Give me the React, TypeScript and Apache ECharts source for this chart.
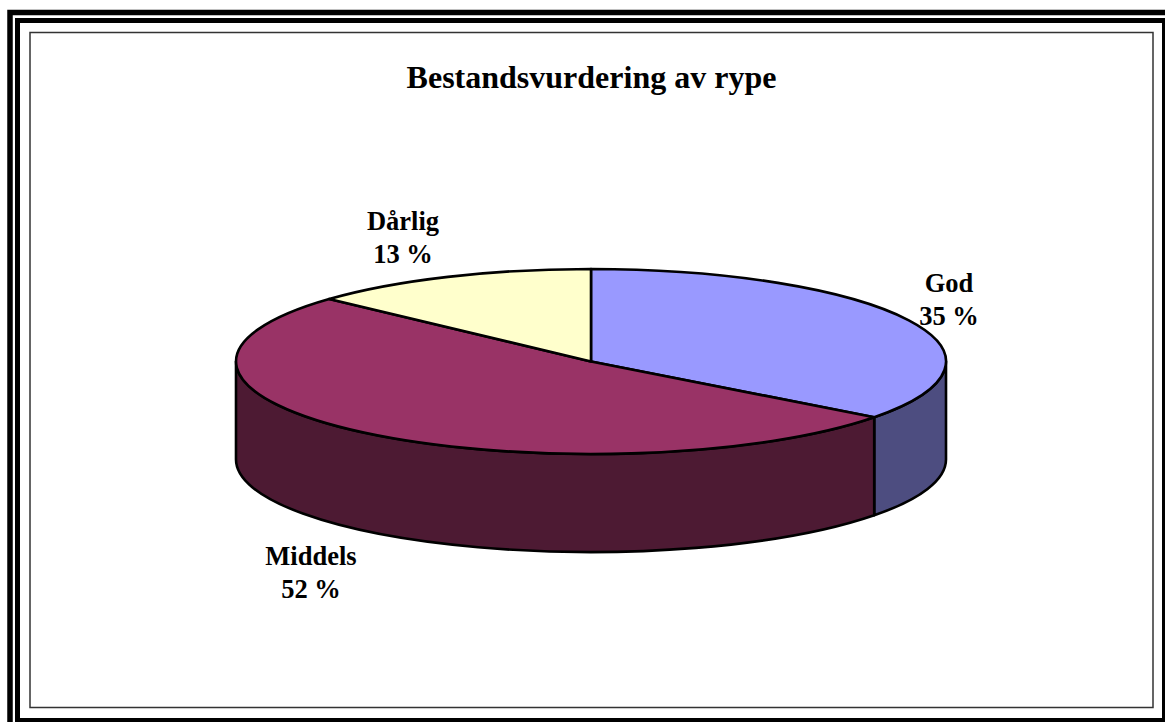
import React, { useEffect, useRef } from "react";
import * as echarts from "echarts";

const titleText = "Bestandsvurdering av rype";
const categories = ["God", "Middels", "Dårlig"];
const shares = [35.3, 51.5, 13.2];
const topColors = ["#9999FF", "#993366", "#FFFFCC"];
const sideColors = ["#4D4D80", "#4D1A33", "#80804D"];
const labelCentres = [
  [949, 299],
  [311, 572],
  [403, 237],
];

const CX = 591;
const CY = 361.5;
const RX = 355;
const RY = 92.5;
const DEPTH = 98;
const SERIF = '"Liberation Serif", "Times New Roman", serif';

const total = shares.reduce((a, b) => a + b, 0);
const point = (deg: number, dy = 0) => {
  const t = (deg * Math.PI) / 180;
  return [CX + RX * Math.sin(t), CY - RY * Math.cos(t) + dy];
};
const fmt = (p: number[]) => `${p[0].toFixed(2)} ${p[1].toFixed(2)}`;

function arc(to: number[], from: number, end: number, sweep: number) {
  const large = Math.abs(end - from) > 180 ? 1 : 0;
  return `A ${RX} ${RY} 0 ${large} ${sweep} ${fmt(to)}`;
}

function topPath(a: number, b: number) {
  return `M ${CX} ${CY} L ${fmt(point(a))} ${arc(point(b), a, b, 1)} Z`;
}

function sidePath(a: number, b: number) {
  const s = Math.max(a, 90);
  const e = Math.min(b, 270);
  if (e <= s) return "";
  return (
    `M ${fmt(point(s))} ${arc(point(e), s, e, 1)} ` +
    `L ${fmt(point(e, DEPTH))} ${arc(point(s, DEPTH), e, s, 0)} Z`
  );
}

export default function App() {
  const ref = useRef<HTMLDivElement>(null);

  useEffect(() => {
    const chart = echarts.init(ref.current!, null, { renderer: "svg" });
    const stroke = { stroke: "#000", lineWidth: 2.6, lineJoin: "round" };

    chart.setOption({
      animation: false,
      backgroundColor: "#fff",
      title: {
        text: titleText,
        left: CX - 4.5,
        top: 56,
        textAlign: "center",
        textStyle: {
          fontFamily: SERIF,
          fontSize: 32,
          fontWeight: "bold",
          color: "#000",
        },
      },
      graphic: [
        {
          type: "rect",
          silent: true,
          z: 0,
          shape: { x: 10, y: 12.5, width: 2000, height: 2000 },
          style: { fill: "none", stroke: "#000", lineWidth: 5.5 },
        },
        {
          type: "rect",
          silent: true,
          z: 0,
          shape: { x: 17.5, y: 20.5, width: 1147, height: 700 },
          style: { fill: "none", stroke: "#000", lineWidth: 5 },
        },
        {
          type: "rect",
          silent: true,
          z: 0,
          shape: { x: 30, y: 32.5, width: 1123, height: 675 },
          style: { fill: "none", stroke: "#333", lineWidth: 1.5 },
        },
      ],
      series: [
        {
          type: "custom",
          coordinateSystem: "none",
          silent: true,
          data: categories.map((name, i) => ({ name, value: [shares[i]] })),
          renderItem: (params: any, api: any) => {
            const i = params.dataIndex;
            const before = shares.slice(0, i).reduce((a, b) => a + b, 0);
            const a = (before / total) * 360;
            const b = ((before + api.value(0)) / total) * 360;
            const children: any[] = [];
            const side = sidePath(a, b);
            if (side) {
              children.push({
                type: "path",
                shape: { pathData: side },
                style: { fill: sideColors[i], ...stroke },
              });
            }
            children.push({
              type: "path",
              shape: { pathData: topPath(a, b) },
              style: { fill: topColors[i], ...stroke },
            });
            return { type: "group", children };
          },
        },
        {
          type: "custom",
          coordinateSystem: "none",
          silent: true,
          z: 5,
          data: categories.map((name, i) => ({ name, value: [shares[i]] })),
          renderItem: (params: any, api: any) => {
            const i = params.dataIndex;
            return {
              type: "text",
              x: labelCentres[i][0],
              y: labelCentres[i][1],
              style: {
                text: `${categories[i]}\n${Math.round(api.value(0))} %`,
                fontFamily: SERIF,
                fontSize: 26.5,
                fontWeight: "bold",
                lineHeight: 33,
                fill: "#000",
                align: "center",
                verticalAlign: "middle",
              },
            };
          },
        },
      ],
    });

    return () => chart.dispose();
  }, []);

  return (
    <div
      ref={ref}
      style={{ position: "fixed", left: 0, top: 0, width: 1165, height: 722 }}
    />
  );
}
